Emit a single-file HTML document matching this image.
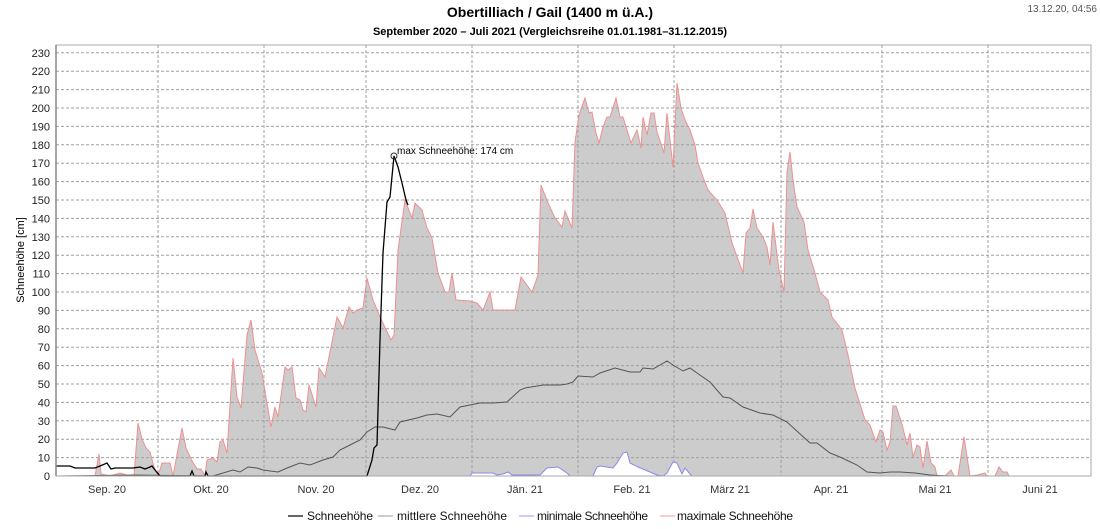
<!DOCTYPE html>
<html><head><meta charset="utf-8"><style>
body{margin:0;background:#fff;}
svg{display:block;font-family:"Liberation Sans",sans-serif;}
</style></head><body>
<svg width="1100" height="529" viewBox="0 0 1100 529" xmlns="http://www.w3.org/2000/svg">
<rect width="1100" height="529" fill="#fff"/>
<text x="550" y="17" text-anchor="middle" font-size="14" font-weight="bold">Obertilliach / Gail (1400 m ü.A.)</text>
<text x="550" y="35" text-anchor="middle" font-size="11" font-weight="bold">September 2020 – Juli 2021 (Vergleichsreihe 01.01.1981–31.12.2015)</text>
<text x="1097" y="12" text-anchor="end" font-size="10" fill="#555">13.12.20, 04:56</text>
<text transform="translate(24,260) rotate(-90)" text-anchor="middle" font-size="11">Schneehöhe [cm]</text>

<polygon fill="#cccccc" stroke="none" points="56,476 95,476 99,454 101,474 110,476 120,473 130,476 134,476 138,423 142,439 146,448 150,452 154,467 158,476 162,463 170,463 173,476 182,428 186,448 192,461 197,469 201,469 205,476 207,460 213,458 217,462 220,442 223,440 227,453 233,358 237,397 241,408 247,335 251,320 255,350 262,373 267,403 271,427 275,407 278,417 285,367 288,370 292,367 296,398 300,400 303,410 306,412 309,385 316,407 319,368 325,377 337,317 343,328 349,307 353,313 357,310 363,308 367,278 373,300 380,317 391,340 394,335 398,250 405,200 412,218 415,203 422,210 427,228 432,238 438,273 445,292 449,292 452,273 456,300 470,301 477,303 483,310 490,292 493,310 515,310 521,277 532,292 538,275 541,185 548,203 555,218 562,227 565,211 572,228 575,142 579,115 585,98 589,113 592,112 596,133 599,143 603,127 607,117 610,117 616,98 620,117 623,117 631,143 637,130 641,148 643,117 647,135 651,113 654,113 657,132 664,153 667,113 673,167 677,83 681,108 685,120 690,130 695,145 698,163 703,177 708,190 717,200 725,213 732,243 743,273 746,233 750,228 753,209 757,228 763,237 767,247 770,265 773,222 779,270 784,292 787,172 790,152 793,180 797,207 804,222 808,250 815,273 820,292 828,300 832,317 842,330 848,355 855,388 865,420 870,425 876,442 880,430 883,432 887,450 890,442 893,406 896,406 900,418 903,428 907,445 910,433 913,457 917,445 920,447 923,468 927,441 931,463 935,467 937,476 945,476 951,470 954,476 958,476 964,437 970,476 977,475 985,473 987,476 995,476 999,467 1003,472 1007,472 1009,476 1090,476"/>

<g stroke="#a0a0a0" stroke-width="1" stroke-dasharray="3,2" fill="none">
<path d="M56,457.6H1091M56,439.2H1091M56,420.8H1091M56,402.4H1091M56,384H1091M56,365.6H1091M56,347.2H1091M56,328.8H1091M56,310.4H1091M56,292H1091M56,273.6H1091M56,255.2H1091M56,236.8H1091M56,218.4H1091M56,200H1091M56,181.6H1091M56,163.2H1091M56,144.8H1091M56,126.4H1091M56,108H1091M56,89.6H1091M56,71.2H1091M56,52.8H1091"/>
<path d="M158,45V476M264,45V476M366,45V476M472,45V476M578,45V476M674,45V476M781,45V476M882,45V476M988,45V476"/>
</g>

<polyline fill="none" stroke="#f09090" stroke-width="1" points="56,476 95,476 99,454 101,474 110,476 120,473 130,476 134,476 138,423 142,439 146,448 150,452 154,467 158,476 162,463 170,463 173,476 182,428 186,448 192,461 197,469 201,469 205,476 207,460 213,458 217,462 220,442 223,440 227,453 233,358 237,397 241,408 247,335 251,320 255,350 262,373 267,403 271,427 275,407 278,417 285,367 288,370 292,367 296,398 300,400 303,410 306,412 309,385 316,407 319,368 325,377 337,317 343,328 349,307 353,313 357,310 363,308 367,278 373,300 380,317 391,340 394,335 398,250 405,200 412,218 415,203 422,210 427,228 432,238 438,273 445,292 449,292 452,273 456,300 470,301 477,303 483,310 490,292 493,310 515,310 521,277 532,292 538,275 541,185 548,203 555,218 562,227 565,211 572,228 575,142 579,115 585,98 589,113 592,112 596,133 599,143 603,127 607,117 610,117 616,98 620,117 623,117 631,143 637,130 641,148 643,117 647,135 651,113 654,113 657,132 664,153 667,113 673,167 677,83 681,108 685,120 690,130 695,145 698,163 703,177 708,190 717,200 725,213 732,243 743,273 746,233 750,228 753,209 757,228 763,237 767,247 770,265 773,222 779,270 784,292 787,172 790,152 793,180 797,207 804,222 808,250 815,273 820,292 828,300 832,317 842,330 848,355 855,388 865,420 870,425 876,442 880,430 883,432 887,450 890,442 893,406 896,406 900,418 903,428 907,445 910,433 913,457 917,445 920,447 923,468 927,441 931,463 935,467 937,476 945,476 951,470 954,476 958,476 964,437 970,476 977,475 985,473 987,476 995,476 999,467 1003,472 1007,472 1009,476 1090,476"/>

<polygon fill="#fff" stroke="#8888ee" stroke-width="1" points="470,476 472,473 493,473 497,475 503,474 508,472 512,475 540,475 547,468 558,467 567,473 570,476 593,476 597,467 600,466 613,468 617,463 623,453 627,452 630,463 638,467 657,475 663,476 667,473 673,462 677,463 682,474 685,468 690,474 692,476"/>
<line x1="56" y1="476" x2="1091" y2="476" stroke="#9999ee" stroke-width="1"/>

<polyline fill="none" stroke="#555" stroke-width="1" points="56,476 133,475 213,476 233,470 240,472 248,467 257,468 263,470 278,472 287,468 300,463 310,465 323,460 333,457 340,450 350,445 360,440 367,432 375,427 383,427 395,430 400,422 417,418 427,415 437,414 450,417 460,407 480,403 493,403 507,402 520,390 525,388 543,385 560,385 567,384 573,382 578,376 593,377 600,373 615,368 630,372 640,372 643,368 653,369 667,361 673,365 683,371 690,368 697,373 710,382 723,397 730,398 743,407 760,413 773,415 787,422 810,443 817,443 830,453 840,457 857,465 867,472 880,473 890,472 900,472 915,473 930,475 950,476 1090,476"/>

<polyline fill="none" stroke="#000" stroke-width="1.3" points="56,466 70,466 75,468 95,468 100,466 107,463 111,469 115,468 133,468 140,467 145,469 150,467 152,466 155,470 160,476 190,476 192,471 194,476 205,476 206,472 208,476 367,476 372,460 374,448 377,445 380,340 383,253 387,202 390,197 394,156 398,167 402,183 406,200 408,205"/>
<circle cx="394" cy="156" r="3" fill="none" stroke="#333" stroke-width="1"/>
<text x="397" y="154" font-size="10">max Schneehöhe: 174 cm</text>

<rect x="56" y="45" width="1035" height="431" fill="none" stroke="#aaa" stroke-width="1"/>
<line x1="56" y1="45" x2="56" y2="476" stroke="#888" stroke-width="1.5"/>

<g font-size="11" text-anchor="end" fill="#222">
<text x="50" y="480">0</text><text x="50" y="461.6">10</text><text x="50" y="443.2">20</text><text x="50" y="424.8">30</text><text x="50" y="406.4">40</text><text x="50" y="388">50</text><text x="50" y="369.6">60</text><text x="50" y="351.2">70</text><text x="50" y="332.8">80</text><text x="50" y="314.4">90</text><text x="50" y="296">100</text><text x="50" y="277.6">110</text><text x="50" y="259.2">120</text><text x="50" y="240.8">130</text><text x="50" y="222.4">140</text><text x="50" y="204">150</text><text x="50" y="185.6">160</text><text x="50" y="167.2">170</text><text x="50" y="148.8">180</text><text x="50" y="130.4">190</text><text x="50" y="112">200</text><text x="50" y="93.6">210</text><text x="50" y="75.2">220</text><text x="50" y="56.8">230</text>
</g>
<g font-size="11" text-anchor="middle" fill="#333">
<text x="107" y="493">Sep. 20</text><text x="211" y="493">Okt. 20</text><text x="316" y="493">Nov. 20</text><text x="420" y="493">Dez. 20</text><text x="525" y="493">Jän. 21</text><text x="632" y="493">Feb. 21</text><text x="730" y="493">März 21</text><text x="831" y="493">Apr. 21</text><text x="935" y="493">Mai 21</text><text x="1040" y="493">Juni 21</text>
</g>

<g font-size="12" fill="#111">
<line x1="288" y1="516" x2="303" y2="516" stroke="#666" stroke-width="2"/><text x="307" y="520" textLength="66">Schneehöhe</text>
<line x1="378" y1="516" x2="393" y2="516" stroke="#ccc" stroke-width="2"/><text x="397" y="520" textLength="110">mittlere Schneehöhe</text>
<line x1="519" y1="516" x2="534" y2="516" stroke="#ccf" stroke-width="2"/><text x="537" y="520" textLength="111">minimale Schneehöhe</text>
<line x1="660" y1="516" x2="675" y2="516" stroke="#fcc" stroke-width="2"/><text x="677" y="520" textLength="116">maximale Schneehöhe</text>
</g>
</svg>
</body></html>
